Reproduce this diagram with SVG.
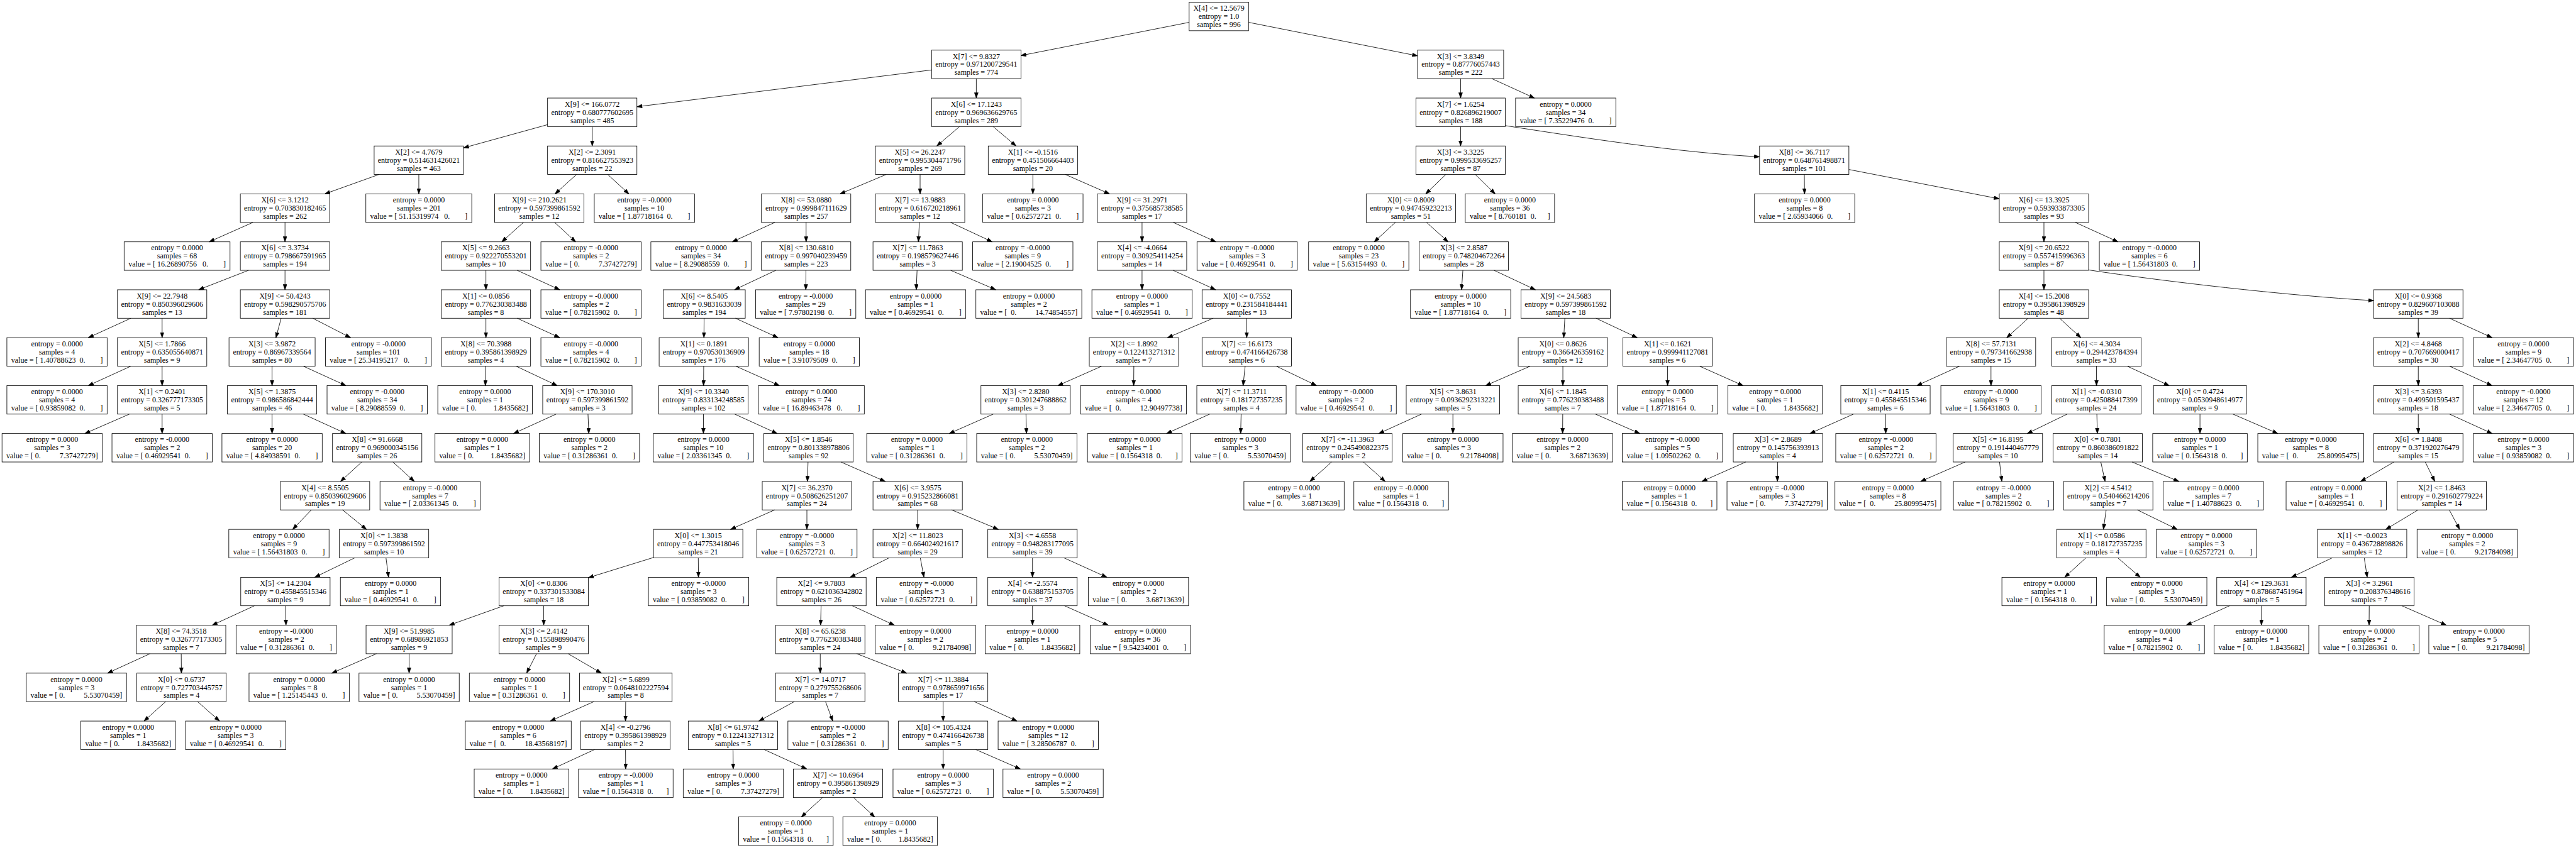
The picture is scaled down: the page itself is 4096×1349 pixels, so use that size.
<svg xmlns="http://www.w3.org/2000/svg" width="4096" height="1349" viewBox="0 0 4096 1349" xml:space="preserve">
<style>
.n rect{fill:#fff;stroke:#000;stroke-width:1.33}
.n text{font-family:"Liberation Serif","Times New Roman",serif;font-size:18.67px;text-anchor:middle;fill:#000;white-space:pre}
#edges line,#edges path{stroke:#000;stroke-width:1.33;fill:none;marker-end:url(#arr)}
</style>
<defs>
<marker id="arr" markerUnits="userSpaceOnUse" viewBox="0 0 14 10" markerWidth="14" markerHeight="10" refX="13.3" refY="5" orient="auto"><path d="M0,0.33 L13.3,5 L0,9.67 z" fill="#000" stroke="#000" stroke-width="1"/></marker>
</defs>
<rect x="0" y="0" width="4096" height="1349" fill="#fff"/>
<g transform="scale(0.6428)">
<g id="nodes">
<g id="n0" class="n" transform="translate(3015,5.5)"><rect x="-73.5" width="147" height="70.5"/><text y="21.4">X[4] &lt;= 12.5679</text><text y="41.5">entropy = 1.0</text><text y="61.6">samples = 996</text></g>
<g id="n1" class="n" transform="translate(2415,124.1)"><rect x="-110.5" width="221" height="70.5"/><text y="21.4">X[7] &lt;= 9.8327</text><text y="41.5">entropy = 0.971200729541</text><text y="61.6">samples = 774</text></g>
<g id="n2" class="n" transform="translate(3613,124.1)"><rect x="-106.5" width="213" height="70.5"/><text y="21.4">X[3] &lt;= 3.8349</text><text y="41.5">entropy = 0.87776057443</text><text y="61.6">samples = 222</text></g>
<g id="n3" class="n" transform="translate(1465,242.7)"><rect x="-110.5" width="221" height="70.5"/><text y="21.4">X[9] &lt;= 166.0772</text><text y="41.5">entropy = 0.680777602695</text><text y="61.6">samples = 485</text></g>
<g id="n4" class="n" transform="translate(2415,242.7)"><rect x="-110.5" width="221" height="70.5"/><text y="21.4">X[6] &lt;= 17.1243</text><text y="41.5">entropy = 0.969636629765</text><text y="61.6">samples = 289</text></g>
<g id="n5" class="n" transform="translate(3613,242.7)"><rect x="-110.5" width="221" height="70.5"/><text y="21.4">X[7] &lt;= 1.6254</text><text y="41.5">entropy = 0.826896219007</text><text y="61.6">samples = 188</text></g>
<g id="n6" class="n" transform="translate(3873,242.7)"><rect x="-124" width="248" height="70.5"/><text y="21.4">entropy = 0.0000</text><text y="41.5">samples = 34</text><text y="61.6">value = [ 7.35229476  0.        ]</text></g>
<g id="n7" class="n" transform="translate(1036,361.3)"><rect x="-110.5" width="221" height="70.5"/><text y="21.4">X[2] &lt;= 4.7679</text><text y="41.5">entropy = 0.514631426021</text><text y="61.6">samples = 463</text></g>
<g id="n8" class="n" transform="translate(1465,361.3)"><rect x="-110.5" width="221" height="70.5"/><text y="21.4">X[2] &lt;= 2.3091</text><text y="41.5">entropy = 0.816627553923</text><text y="61.6">samples = 22</text></g>
<g id="n9" class="n" transform="translate(2276,361.3)"><rect x="-110.5" width="221" height="70.5"/><text y="21.4">X[5] &lt;= 26.2247</text><text y="41.5">entropy = 0.995304471796</text><text y="61.6">samples = 269</text></g>
<g id="n10" class="n" transform="translate(2555,361.3)"><rect x="-110.5" width="221" height="70.5"/><text y="21.4">X[1] &lt;= -0.1516</text><text y="41.5">entropy = 0.451506664403</text><text y="61.6">samples = 20</text></g>
<g id="n11" class="n" transform="translate(3613,361.3)"><rect x="-110.5" width="221" height="70.5"/><text y="21.4">X[3] &lt;= 3.3225</text><text y="41.5">entropy = 0.999533695257</text><text y="61.6">samples = 87</text></g>
<g id="n12" class="n" transform="translate(4463,361.3)"><rect x="-110.5" width="221" height="70.5"/><text y="21.4">X[8] &lt;= 36.7117</text><text y="41.5">entropy = 0.648761498871</text><text y="61.6">samples = 101</text></g>
<g id="n13" class="n" transform="translate(705,479.9)"><rect x="-110.5" width="221" height="70.5"/><text y="21.4">X[6] &lt;= 3.1212</text><text y="41.5">entropy = 0.703830182465</text><text y="61.6">samples = 262</text></g>
<g id="n14" class="n" transform="translate(1036,479.9)"><rect x="-131" width="262" height="70.5"/><text y="21.4">entropy = 0.0000</text><text y="41.5">samples = 201</text><text y="61.6">value = [ 51.15319974   0.        ]</text></g>
<g id="n15" class="n" transform="translate(1334,479.9)"><rect x="-110.5" width="221" height="70.5"/><text y="21.4">X[9] &lt;= 210.2621</text><text y="41.5">entropy = 0.597399861592</text><text y="61.6">samples = 12</text></g>
<g id="n16" class="n" transform="translate(1594,479.9)"><rect x="-124" width="248" height="70.5"/><text y="21.4">entropy = -0.0000</text><text y="41.5">samples = 10</text><text y="61.6">value = [ 1.87718164  0.        ]</text></g>
<g id="n17" class="n" transform="translate(1994,479.9)"><rect x="-110.5" width="221" height="70.5"/><text y="21.4">X[8] &lt;= 53.0880</text><text y="41.5">entropy = 0.999847111629</text><text y="61.6">samples = 257</text></g>
<g id="n18" class="n" transform="translate(2276,479.9)"><rect x="-110.5" width="221" height="70.5"/><text y="21.4">X[7] &lt;= 13.9883</text><text y="41.5">entropy = 0.616720218961</text><text y="61.6">samples = 12</text></g>
<g id="n19" class="n" transform="translate(2555,479.9)"><rect x="-124" width="248" height="70.5"/><text y="21.4">entropy = 0.0000</text><text y="41.5">samples = 3</text><text y="61.6">value = [ 0.62572721  0.        ]</text></g>
<g id="n20" class="n" transform="translate(2825,479.9)"><rect x="-110.5" width="221" height="70.5"/><text y="21.4">X[9] &lt;= 31.2971</text><text y="41.5">entropy = 0.375685738585</text><text y="61.6">samples = 17</text></g>
<g id="n21" class="n" transform="translate(3490,479.9)"><rect x="-110.5" width="221" height="70.5"/><text y="21.4">X[0] &lt;= 0.8009</text><text y="41.5">entropy = 0.947459232213</text><text y="61.6">samples = 51</text></g>
<g id="n22" class="n" transform="translate(3735,479.9)"><rect x="-110.5" width="221" height="70.5"/><text y="21.4">entropy = 0.0000</text><text y="41.5">samples = 36</text><text y="61.6">value = [ 8.760181  0.      ]</text></g>
<g id="n23" class="n" transform="translate(4464,479.9)"><rect x="-124" width="248" height="70.5"/><text y="21.4">entropy = 0.0000</text><text y="41.5">samples = 8</text><text y="61.6">value = [ 2.65934066  0.        ]</text></g>
<g id="n24" class="n" transform="translate(5056,479.9)"><rect x="-110.5" width="221" height="70.5"/><text y="21.4">X[6] &lt;= 13.3925</text><text y="41.5">entropy = 0.593933873305</text><text y="61.6">samples = 93</text></g>
<g id="n25" class="n" transform="translate(438,598.5)"><rect x="-131" width="262" height="70.5"/><text y="21.4">entropy = 0.0000</text><text y="41.5">samples = 68</text><text y="61.6">value = [ 16.26890756   0.        ]</text></g>
<g id="n26" class="n" transform="translate(705,598.5)"><rect x="-110.5" width="221" height="70.5"/><text y="21.4">X[6] &lt;= 3.3734</text><text y="41.5">entropy = 0.798667591965</text><text y="61.6">samples = 194</text></g>
<g id="n27" class="n" transform="translate(1202,598.5)"><rect x="-110.5" width="221" height="70.5"/><text y="21.4">X[5] &lt;= 9.2663</text><text y="41.5">entropy = 0.922270553201</text><text y="61.6">samples = 10</text></g>
<g id="n28" class="n" transform="translate(1462,598.5)"><rect x="-124" width="248" height="70.5"/><text y="21.4">entropy = -0.0000</text><text y="41.5">samples = 2</text><text y="61.6">value = [ 0.          7.37427279]</text></g>
<g id="n29" class="n" transform="translate(1734,598.5)"><rect x="-124" width="248" height="70.5"/><text y="21.4">entropy = 0.0000</text><text y="41.5">samples = 34</text><text y="61.6">value = [ 8.29088559  0.        ]</text></g>
<g id="n30" class="n" transform="translate(1994,598.5)"><rect x="-110.5" width="221" height="70.5"/><text y="21.4">X[8] &lt;= 130.6810</text><text y="41.5">entropy = 0.997040239459</text><text y="61.6">samples = 223</text></g>
<g id="n31" class="n" transform="translate(2270,598.5)"><rect x="-110.5" width="221" height="70.5"/><text y="21.4">X[7] &lt;= 11.7863</text><text y="41.5">entropy = 0.198579627446</text><text y="61.6">samples = 3</text></g>
<g id="n32" class="n" transform="translate(2530,598.5)"><rect x="-124" width="248" height="70.5"/><text y="21.4">entropy = -0.0000</text><text y="41.5">samples = 9</text><text y="61.6">value = [ 2.19004525  0.        ]</text></g>
<g id="n33" class="n" transform="translate(2825,598.5)"><rect x="-110.5" width="221" height="70.5"/><text y="21.4">X[4] &lt;= -4.0664</text><text y="41.5">entropy = 0.309254114254</text><text y="61.6">samples = 14</text></g>
<g id="n34" class="n" transform="translate(3085,598.5)"><rect x="-124" width="248" height="70.5"/><text y="21.4">entropy = -0.0000</text><text y="41.5">samples = 3</text><text y="61.6">value = [ 0.46929541  0.        ]</text></g>
<g id="n35" class="n" transform="translate(3361,598.5)"><rect x="-124" width="248" height="70.5"/><text y="21.4">entropy = 0.0000</text><text y="41.5">samples = 23</text><text y="61.6">value = [ 5.63154493  0.        ]</text></g>
<g id="n36" class="n" transform="translate(3621,598.5)"><rect x="-110.5" width="221" height="70.5"/><text y="21.4">X[3] &lt;= 2.8587</text><text y="41.5">entropy = 0.748204672264</text><text y="61.6">samples = 28</text></g>
<g id="n37" class="n" transform="translate(5056,598.5)"><rect x="-110.5" width="221" height="70.5"/><text y="21.4">X[9] &lt;= 20.6522</text><text y="41.5">entropy = 0.557415996363</text><text y="61.6">samples = 87</text></g>
<g id="n38" class="n" transform="translate(5317,598.5)"><rect x="-124" width="248" height="70.5"/><text y="21.4">entropy = -0.0000</text><text y="41.5">samples = 6</text><text y="61.6">value = [ 1.56431803  0.        ]</text></g>
<g id="n39" class="n" transform="translate(401,717.1)"><rect x="-110.5" width="221" height="70.5"/><text y="21.4">X[9] &lt;= 22.7948</text><text y="41.5">entropy = 0.850396029606</text><text y="61.6">samples = 13</text></g>
<g id="n40" class="n" transform="translate(705,717.1)"><rect x="-110.5" width="221" height="70.5"/><text y="21.4">X[9] &lt;= 50.4243</text><text y="41.5">entropy = 0.598290575706</text><text y="61.6">samples = 181</text></g>
<g id="n41" class="n" transform="translate(1202,717.1)"><rect x="-110.5" width="221" height="70.5"/><text y="21.4">X[1] &lt;= 0.0856</text><text y="41.5">entropy = 0.776230383488</text><text y="61.6">samples = 8</text></g>
<g id="n42" class="n" transform="translate(1462,717.1)"><rect x="-124" width="248" height="70.5"/><text y="21.4">entropy = -0.0000</text><text y="41.5">samples = 2</text><text y="61.6">value = [ 0.78215902  0.        ]</text></g>
<g id="n43" class="n" transform="translate(1742,717.1)"><rect x="-101.5" width="203" height="70.5"/><text y="21.4">X[6] &lt;= 8.5405</text><text y="41.5">entropy = 0.9831633039</text><text y="61.6">samples = 194</text></g>
<g id="n44" class="n" transform="translate(1993,717.1)"><rect x="-124" width="248" height="70.5"/><text y="21.4">entropy = -0.0000</text><text y="41.5">samples = 29</text><text y="61.6">value = [ 7.97802198  0.        ]</text></g>
<g id="n45" class="n" transform="translate(2265,717.1)"><rect x="-124" width="248" height="70.5"/><text y="21.4">entropy = 0.0000</text><text y="41.5">samples = 1</text><text y="61.6">value = [ 0.46929541  0.        ]</text></g>
<g id="n46" class="n" transform="translate(2545,717.1)"><rect x="-131" width="262" height="70.5"/><text y="21.4">entropy = 0.0000</text><text y="41.5">samples = 2</text><text y="61.6">value = [  0.          14.74854557]</text></g>
<g id="n47" class="n" transform="translate(2825,717.1)"><rect x="-124" width="248" height="70.5"/><text y="21.4">entropy = 0.0000</text><text y="41.5">samples = 1</text><text y="61.6">value = [ 0.46929541  0.        ]</text></g>
<g id="n48" class="n" transform="translate(3084,717.1)"><rect x="-110.5" width="221" height="70.5"/><text y="21.4">X[0] &lt;= 0.7552</text><text y="41.5">entropy = 0.231584184441</text><text y="61.6">samples = 13</text></g>
<g id="n49" class="n" transform="translate(3613,717.1)"><rect x="-124" width="248" height="70.5"/><text y="21.4">entropy = 0.0000</text><text y="41.5">samples = 10</text><text y="61.6">value = [ 1.87718164  0.        ]</text></g>
<g id="n50" class="n" transform="translate(3873,717.1)"><rect x="-110.5" width="221" height="70.5"/><text y="21.4">X[9] &lt;= 24.5683</text><text y="41.5">entropy = 0.597399861592</text><text y="61.6">samples = 18</text></g>
<g id="n51" class="n" transform="translate(5056,717.1)"><rect x="-110.5" width="221" height="70.5"/><text y="21.4">X[4] &lt;= 15.2008</text><text y="41.5">entropy = 0.395861398929</text><text y="61.6">samples = 48</text></g>
<g id="n52" class="n" transform="translate(5982,717.1)"><rect x="-110.5" width="221" height="70.5"/><text y="21.4">X[0] &lt;= 0.9368</text><text y="41.5">entropy = 0.829607103088</text><text y="61.6">samples = 39</text></g>
<g id="n53" class="n" transform="translate(141,835.7)"><rect x="-124" width="248" height="70.5"/><text y="21.4">entropy = 0.0000</text><text y="41.5">samples = 4</text><text y="61.6">value = [ 1.40788623  0.        ]</text></g>
<g id="n54" class="n" transform="translate(401,835.7)"><rect x="-110.5" width="221" height="70.5"/><text y="21.4">X[5] &lt;= 1.7866</text><text y="41.5">entropy = 0.635055640871</text><text y="61.6">samples = 9</text></g>
<g id="n55" class="n" transform="translate(673,835.7)"><rect x="-106.5" width="213" height="70.5"/><text y="21.4">X[3] &lt;= 3.9872</text><text y="41.5">entropy = 0.86967339564</text><text y="61.6">samples = 80</text></g>
<g id="n56" class="n" transform="translate(936,835.7)"><rect x="-131" width="262" height="70.5"/><text y="21.4">entropy = -0.0000</text><text y="41.5">samples = 101</text><text y="61.6">value = [ 25.34195217   0.        ]</text></g>
<g id="n57" class="n" transform="translate(1202,835.7)"><rect x="-110.5" width="221" height="70.5"/><text y="21.4">X[8] &lt;= 70.3988</text><text y="41.5">entropy = 0.395861398929</text><text y="61.6">samples = 4</text></g>
<g id="n58" class="n" transform="translate(1462,835.7)"><rect x="-124" width="248" height="70.5"/><text y="21.4">entropy = -0.0000</text><text y="41.5">samples = 4</text><text y="61.6">value = [ 0.78215902  0.        ]</text></g>
<g id="n59" class="n" transform="translate(1741,835.7)"><rect x="-110.5" width="221" height="70.5"/><text y="21.4">X[1] &lt;= 0.1891</text><text y="41.5">entropy = 0.970530136909</text><text y="61.6">samples = 176</text></g>
<g id="n60" class="n" transform="translate(2002,835.7)"><rect x="-124" width="248" height="70.5"/><text y="21.4">entropy = 0.0000</text><text y="41.5">samples = 18</text><text y="61.6">value = [ 3.91079509  0.        ]</text></g>
<g id="n61" class="n" transform="translate(2805,835.7)"><rect x="-110.5" width="221" height="70.5"/><text y="21.4">X[2] &lt;= 1.8992</text><text y="41.5">entropy = 0.122413271312</text><text y="61.6">samples = 7</text></g>
<g id="n62" class="n" transform="translate(3084,835.7)"><rect x="-110.5" width="221" height="70.5"/><text y="21.4">X[7] &lt;= 16.6173</text><text y="41.5">entropy = 0.474166426738</text><text y="61.6">samples = 6</text></g>
<g id="n63" class="n" transform="translate(3866,835.7)"><rect x="-110.5" width="221" height="70.5"/><text y="21.4">X[0] &lt;= 0.8626</text><text y="41.5">entropy = 0.366426359162</text><text y="61.6">samples = 12</text></g>
<g id="n64" class="n" transform="translate(4125,835.7)"><rect x="-110.5" width="221" height="70.5"/><text y="21.4">X[1] &lt;= 0.1621</text><text y="41.5">entropy = 0.999941127081</text><text y="61.6">samples = 6</text></g>
<g id="n65" class="n" transform="translate(4925,835.7)"><rect x="-110.5" width="221" height="70.5"/><text y="21.4">X[8] &lt;= 57.7131</text><text y="41.5">entropy = 0.797341662938</text><text y="61.6">samples = 15</text></g>
<g id="n66" class="n" transform="translate(5186,835.7)"><rect x="-110.5" width="221" height="70.5"/><text y="21.4">X[6] &lt;= 4.3034</text><text y="41.5">entropy = 0.294423784394</text><text y="61.6">samples = 33</text></g>
<g id="n67" class="n" transform="translate(5982,835.7)"><rect x="-110.5" width="221" height="70.5"/><text y="21.4">X[2] &lt;= 4.8468</text><text y="41.5">entropy = 0.707669000417</text><text y="61.6">samples = 30</text></g>
<g id="n68" class="n" transform="translate(6242,835.7)"><rect x="-124" width="248" height="70.5"/><text y="21.4">entropy = 0.0000</text><text y="41.5">samples = 9</text><text y="61.6">value = [ 2.34647705  0.        ]</text></g>
<g id="n69" class="n" transform="translate(141,954.3)"><rect x="-124" width="248" height="70.5"/><text y="21.4">entropy = 0.0000</text><text y="41.5">samples = 4</text><text y="61.6">value = [ 0.93859082  0.        ]</text></g>
<g id="n70" class="n" transform="translate(401,954.3)"><rect x="-110.5" width="221" height="70.5"/><text y="21.4">X[1] &lt;= 0.2401</text><text y="41.5">entropy = 0.326777173305</text><text y="61.6">samples = 5</text></g>
<g id="n71" class="n" transform="translate(673,954.3)"><rect x="-110.5" width="221" height="70.5"/><text y="21.4">X[5] &lt;= 1.3875</text><text y="41.5">entropy = 0.986586842444</text><text y="61.6">samples = 46</text></g>
<g id="n72" class="n" transform="translate(933,954.3)"><rect x="-124" width="248" height="70.5"/><text y="21.4">entropy = -0.0000</text><text y="41.5">samples = 34</text><text y="61.6">value = [ 8.29088559  0.        ]</text></g>
<g id="n73" class="n" transform="translate(1200,954.3)"><rect x="-117" width="234" height="70.5"/><text y="21.4">entropy = 0.0000</text><text y="41.5">samples = 1</text><text y="61.6">value = [ 0.         1.8435682]</text></g>
<g id="n74" class="n" transform="translate(1453,954.3)"><rect x="-110.5" width="221" height="70.5"/><text y="21.4">X[9] &lt;= 170.3010</text><text y="41.5">entropy = 0.597399861592</text><text y="61.6">samples = 3</text></g>
<g id="n75" class="n" transform="translate(1740,954.3)"><rect x="-110.5" width="221" height="70.5"/><text y="21.4">X[9] &lt;= 10.3340</text><text y="41.5">entropy = 0.833134248585</text><text y="61.6">samples = 102</text></g>
<g id="n76" class="n" transform="translate(2007,954.3)"><rect x="-131" width="262" height="70.5"/><text y="21.4">entropy = 0.0000</text><text y="41.5">samples = 74</text><text y="61.6">value = [ 16.89463478   0.        ]</text></g>
<g id="n77" class="n" transform="translate(2537,954.3)"><rect x="-110.5" width="221" height="70.5"/><text y="21.4">X[3] &lt;= 2.8280</text><text y="41.5">entropy = 0.301247688862</text><text y="61.6">samples = 3</text></g>
<g id="n78" class="n" transform="translate(2804,954.3)"><rect x="-131" width="262" height="70.5"/><text y="21.4">entropy = -0.0000</text><text y="41.5">samples = 4</text><text y="61.6">value = [  0.          12.90497738]</text></g>
<g id="n79" class="n" transform="translate(3071,954.3)"><rect x="-110.5" width="221" height="70.5"/><text y="21.4">X[7] &lt;= 11.3711</text><text y="41.5">entropy = 0.181727357235</text><text y="61.6">samples = 4</text></g>
<g id="n80" class="n" transform="translate(3330,954.3)"><rect x="-124" width="248" height="70.5"/><text y="21.4">entropy = -0.0000</text><text y="41.5">samples = 2</text><text y="61.6">value = [ 0.46929541  0.        ]</text></g>
<g id="n81" class="n" transform="translate(3594,954.3)"><rect x="-115.5" width="231" height="70.5"/><text y="21.4">X[5] &lt;= 3.8631</text><text y="41.5">entropy = 0.0936292313221</text><text y="61.6">samples = 5</text></g>
<g id="n82" class="n" transform="translate(3866,954.3)"><rect x="-110.5" width="221" height="70.5"/><text y="21.4">X[6] &lt;= 1.1845</text><text y="41.5">entropy = 0.776230383488</text><text y="61.6">samples = 7</text></g>
<g id="n83" class="n" transform="translate(4125,954.3)"><rect x="-124" width="248" height="70.5"/><text y="21.4">entropy = 0.0000</text><text y="41.5">samples = 5</text><text y="61.6">value = [ 1.87718164  0.        ]</text></g>
<g id="n84" class="n" transform="translate(4391,954.3)"><rect x="-117" width="234" height="70.5"/><text y="21.4">entropy = 0.0000</text><text y="41.5">samples = 1</text><text y="61.6">value = [ 0.         1.8435682]</text></g>
<g id="n85" class="n" transform="translate(4664,954.3)"><rect x="-110.5" width="221" height="70.5"/><text y="21.4">X[1] &lt;= 0.4115</text><text y="41.5">entropy = 0.455845515346</text><text y="61.6">samples = 6</text></g>
<g id="n86" class="n" transform="translate(4925,954.3)"><rect x="-124" width="248" height="70.5"/><text y="21.4">entropy = -0.0000</text><text y="41.5">samples = 9</text><text y="61.6">value = [ 1.56431803  0.        ]</text></g>
<g id="n87" class="n" transform="translate(5186,954.3)"><rect x="-110.5" width="221" height="70.5"/><text y="21.4">X[1] &lt;= -0.0310</text><text y="41.5">entropy = 0.425088417399</text><text y="61.6">samples = 24</text></g>
<g id="n88" class="n" transform="translate(5442,954.3)"><rect x="-115" width="230" height="70.5"/><text y="21.4">X[0] &lt;= 0.4724</text><text y="41.5">entropy = 0.0530948614977</text><text y="61.6">samples = 9</text></g>
<g id="n89" class="n" transform="translate(5982,954.3)"><rect x="-110.5" width="221" height="70.5"/><text y="21.4">X[3] &lt;= 3.6393</text><text y="41.5">entropy = 0.499501595437</text><text y="61.6">samples = 18</text></g>
<g id="n90" class="n" transform="translate(6242,954.3)"><rect x="-124" width="248" height="70.5"/><text y="21.4">entropy = -0.0000</text><text y="41.5">samples = 12</text><text y="61.6">value = [ 2.34647705  0.        ]</text></g>
<g id="n91" class="n" transform="translate(129,1072.9)"><rect x="-124" width="248" height="70.5"/><text y="21.4">entropy = 0.0000</text><text y="41.5">samples = 3</text><text y="61.6">value = [ 0.          7.37427279]</text></g>
<g id="n92" class="n" transform="translate(401,1072.9)"><rect x="-124" width="248" height="70.5"/><text y="21.4">entropy = -0.0000</text><text y="41.5">samples = 2</text><text y="61.6">value = [ 0.46929541  0.        ]</text></g>
<g id="n93" class="n" transform="translate(673,1072.9)"><rect x="-124" width="248" height="70.5"/><text y="21.4">entropy = 0.0000</text><text y="41.5">samples = 20</text><text y="61.6">value = [ 4.84938591  0.        ]</text></g>
<g id="n94" class="n" transform="translate(933,1072.9)"><rect x="-110.5" width="221" height="70.5"/><text y="21.4">X[8] &lt;= 91.6668</text><text y="41.5">entropy = 0.969000345156</text><text y="61.6">samples = 26</text></g>
<g id="n95" class="n" transform="translate(1193,1072.9)"><rect x="-117" width="234" height="70.5"/><text y="21.4">entropy = 0.0000</text><text y="41.5">samples = 1</text><text y="61.6">value = [ 0.         1.8435682]</text></g>
<g id="n96" class="n" transform="translate(1458,1072.9)"><rect x="-124" width="248" height="70.5"/><text y="21.4">entropy = 0.0000</text><text y="41.5">samples = 2</text><text y="61.6">value = [ 0.31286361  0.        ]</text></g>
<g id="n97" class="n" transform="translate(1740,1072.9)"><rect x="-124" width="248" height="70.5"/><text y="21.4">entropy = 0.0000</text><text y="41.5">samples = 10</text><text y="61.6">value = [ 2.03361345  0.        ]</text></g>
<g id="n98" class="n" transform="translate(2000,1072.9)"><rect x="-110.5" width="221" height="70.5"/><text y="21.4">X[5] &lt;= 1.8546</text><text y="41.5">entropy = 0.801338978806</text><text y="61.6">samples = 92</text></g>
<g id="n99" class="n" transform="translate(2268,1072.9)"><rect x="-124" width="248" height="70.5"/><text y="21.4">entropy = 0.0000</text><text y="41.5">samples = 1</text><text y="61.6">value = [ 0.31286361  0.        ]</text></g>
<g id="n100" class="n" transform="translate(2540,1072.9)"><rect x="-124" width="248" height="70.5"/><text y="21.4">entropy = 0.0000</text><text y="41.5">samples = 2</text><text y="61.6">value = [ 0.          5.53070459]</text></g>
<g id="n101" class="n" transform="translate(2807,1072.9)"><rect x="-117" width="234" height="70.5"/><text y="21.4">entropy = 0.0000</text><text y="41.5">samples = 1</text><text y="61.6">value = [ 0.1564318  0.       ]</text></g>
<g id="n102" class="n" transform="translate(3068,1072.9)"><rect x="-124" width="248" height="70.5"/><text y="21.4">entropy = 0.0000</text><text y="41.5">samples = 3</text><text y="61.6">value = [ 0.          5.53070459]</text></g>
<g id="n103" class="n" transform="translate(3333,1072.9)"><rect x="-110.5" width="221" height="70.5"/><text y="21.4">X[7] &lt;= -11.3963</text><text y="41.5">entropy = 0.245490822375</text><text y="61.6">samples = 2</text></g>
<g id="n104" class="n" transform="translate(3594,1072.9)"><rect x="-124" width="248" height="70.5"/><text y="21.4">entropy = 0.0000</text><text y="41.5">samples = 3</text><text y="61.6">value = [ 0.          9.21784098]</text></g>
<g id="n105" class="n" transform="translate(3865,1072.9)"><rect x="-124" width="248" height="70.5"/><text y="21.4">entropy = 0.0000</text><text y="41.5">samples = 2</text><text y="61.6">value = [ 0.          3.68713639]</text></g>
<g id="n106" class="n" transform="translate(4137,1072.9)"><rect x="-124" width="248" height="70.5"/><text y="21.4">entropy = -0.0000</text><text y="41.5">samples = 5</text><text y="61.6">value = [ 1.09502262  0.        ]</text></g>
<g id="n107" class="n" transform="translate(4398,1072.9)"><rect x="-110.5" width="221" height="70.5"/><text y="21.4">X[3] &lt;= 2.8689</text><text y="41.5">entropy = 0.145756393913</text><text y="61.6">samples = 4</text></g>
<g id="n108" class="n" transform="translate(4665,1072.9)"><rect x="-124" width="248" height="70.5"/><text y="21.4">entropy = -0.0000</text><text y="41.5">samples = 2</text><text y="61.6">value = [ 0.62572721  0.        ]</text></g>
<g id="n109" class="n" transform="translate(4942,1072.9)"><rect x="-110.5" width="221" height="70.5"/><text y="21.4">X[5] &lt;= 16.8195</text><text y="41.5">entropy = 0.191440467779</text><text y="61.6">samples = 10</text></g>
<g id="n110" class="n" transform="translate(5189,1072.9)"><rect x="-110.5" width="221" height="70.5"/><text y="21.4">X[0] &lt;= 0.7801</text><text y="41.5">entropy = 0.860386091822</text><text y="61.6">samples = 14</text></g>
<g id="n111" class="n" transform="translate(5442,1072.9)"><rect x="-117" width="234" height="70.5"/><text y="21.4">entropy = 0.0000</text><text y="41.5">samples = 1</text><text y="61.6">value = [ 0.1564318  0.       ]</text></g>
<g id="n112" class="n" transform="translate(5716,1072.9)"><rect x="-131" width="262" height="70.5"/><text y="21.4">entropy = 0.0000</text><text y="41.5">samples = 8</text><text y="61.6">value = [  0.          25.80995475]</text></g>
<g id="n113" class="n" transform="translate(5982,1072.9)"><rect x="-110.5" width="221" height="70.5"/><text y="21.4">X[6] &lt;= 1.8408</text><text y="41.5">entropy = 0.371920276479</text><text y="61.6">samples = 15</text></g>
<g id="n114" class="n" transform="translate(6242,1072.9)"><rect x="-124" width="248" height="70.5"/><text y="21.4">entropy = 0.0000</text><text y="41.5">samples = 3</text><text y="61.6">value = [ 0.93859082  0.        ]</text></g>
<g id="n115" class="n" transform="translate(804,1191.5)"><rect x="-110.5" width="221" height="70.5"/><text y="21.4">X[4] &lt;= 8.5505</text><text y="41.5">entropy = 0.850396029606</text><text y="61.6">samples = 19</text></g>
<g id="n116" class="n" transform="translate(1064,1191.5)"><rect x="-124" width="248" height="70.5"/><text y="21.4">entropy = -0.0000</text><text y="41.5">samples = 7</text><text y="61.6">value = [ 2.03361345  0.        ]</text></g>
<g id="n117" class="n" transform="translate(1996,1191.5)"><rect x="-110.5" width="221" height="70.5"/><text y="21.4">X[7] &lt;= 36.2370</text><text y="41.5">entropy = 0.508626251207</text><text y="61.6">samples = 24</text></g>
<g id="n118" class="n" transform="translate(2270,1191.5)"><rect x="-110.5" width="221" height="70.5"/><text y="21.4">X[6] &lt;= 3.9575</text><text y="41.5">entropy = 0.915232866081</text><text y="61.6">samples = 68</text></g>
<g id="n119" class="n" transform="translate(3201,1191.5)"><rect x="-124" width="248" height="70.5"/><text y="21.4">entropy = 0.0000</text><text y="41.5">samples = 1</text><text y="61.6">value = [ 0.          3.68713639]</text></g>
<g id="n120" class="n" transform="translate(3466,1191.5)"><rect x="-117" width="234" height="70.5"/><text y="21.4">entropy = -0.0000</text><text y="41.5">samples = 1</text><text y="61.6">value = [ 0.1564318  0.       ]</text></g>
<g id="n121" class="n" transform="translate(4130,1191.5)"><rect x="-117" width="234" height="70.5"/><text y="21.4">entropy = 0.0000</text><text y="41.5">samples = 1</text><text y="61.6">value = [ 0.1564318  0.       ]</text></g>
<g id="n122" class="n" transform="translate(4396,1191.5)"><rect x="-124" width="248" height="70.5"/><text y="21.4">entropy = -0.0000</text><text y="41.5">samples = 3</text><text y="61.6">value = [ 0.          7.37427279]</text></g>
<g id="n123" class="n" transform="translate(4670,1191.5)"><rect x="-131" width="262" height="70.5"/><text y="21.4">entropy = 0.0000</text><text y="41.5">samples = 8</text><text y="61.6">value = [  0.          25.80995475]</text></g>
<g id="n124" class="n" transform="translate(4956,1191.5)"><rect x="-124" width="248" height="70.5"/><text y="21.4">entropy = -0.0000</text><text y="41.5">samples = 2</text><text y="61.6">value = [ 0.78215902  0.        ]</text></g>
<g id="n125" class="n" transform="translate(5215,1191.5)"><rect x="-110.5" width="221" height="70.5"/><text y="21.4">X[2] &lt;= 4.5412</text><text y="41.5">entropy = 0.540466214206</text><text y="61.6">samples = 7</text></g>
<g id="n126" class="n" transform="translate(5475,1191.5)"><rect x="-124" width="248" height="70.5"/><text y="21.4">entropy = 0.0000</text><text y="41.5">samples = 7</text><text y="61.6">value = [ 1.40788623  0.        ]</text></g>
<g id="n127" class="n" transform="translate(5779,1191.5)"><rect x="-124" width="248" height="70.5"/><text y="21.4">entropy = 0.0000</text><text y="41.5">samples = 1</text><text y="61.6">value = [ 0.46929541  0.        ]</text></g>
<g id="n128" class="n" transform="translate(6040,1191.5)"><rect x="-110.5" width="221" height="70.5"/><text y="21.4">X[2] &lt;= 1.8463</text><text y="41.5">entropy = 0.291602779224</text><text y="61.6">samples = 14</text></g>
<g id="n129" class="n" transform="translate(690,1310.1)"><rect x="-124" width="248" height="70.5"/><text y="21.4">entropy = 0.0000</text><text y="41.5">samples = 9</text><text y="61.6">value = [ 1.56431803  0.        ]</text></g>
<g id="n130" class="n" transform="translate(950,1310.1)"><rect x="-110.5" width="221" height="70.5"/><text y="21.4">X[0] &lt;= 1.3838</text><text y="41.5">entropy = 0.597399861592</text><text y="61.6">samples = 10</text></g>
<g id="n131" class="n" transform="translate(1727,1310.1)"><rect x="-110.5" width="221" height="70.5"/><text y="21.4">X[0] &lt;= 1.3015</text><text y="41.5">entropy = 0.447753418046</text><text y="61.6">samples = 21</text></g>
<g id="n132" class="n" transform="translate(1996,1310.1)"><rect x="-124" width="248" height="70.5"/><text y="21.4">entropy = -0.0000</text><text y="41.5">samples = 3</text><text y="61.6">value = [ 0.62572721  0.        ]</text></g>
<g id="n133" class="n" transform="translate(2270,1310.1)"><rect x="-110.5" width="221" height="70.5"/><text y="21.4">X[2] &lt;= 11.8023</text><text y="41.5">entropy = 0.664024921617</text><text y="61.6">samples = 29</text></g>
<g id="n134" class="n" transform="translate(2554,1310.1)"><rect x="-110.5" width="221" height="70.5"/><text y="21.4">X[3] &lt;= 4.6558</text><text y="41.5">entropy = 0.948283177095</text><text y="61.6">samples = 39</text></g>
<g id="n135" class="n" transform="translate(5198,1310.1)"><rect x="-110.5" width="221" height="70.5"/><text y="21.4">X[1] &lt;= 0.0586</text><text y="41.5">entropy = 0.181727357235</text><text y="61.6">samples = 4</text></g>
<g id="n136" class="n" transform="translate(5458,1310.1)"><rect x="-124" width="248" height="70.5"/><text y="21.4">entropy = 0.0000</text><text y="41.5">samples = 3</text><text y="61.6">value = [ 0.62572721  0.        ]</text></g>
<g id="n137" class="n" transform="translate(5843,1310.1)"><rect x="-110.5" width="221" height="70.5"/><text y="21.4">X[1] &lt;= -0.0023</text><text y="41.5">entropy = 0.436728898826</text><text y="61.6">samples = 12</text></g>
<g id="n138" class="n" transform="translate(6103,1310.1)"><rect x="-124" width="248" height="70.5"/><text y="21.4">entropy = 0.0000</text><text y="41.5">samples = 2</text><text y="61.6">value = [ 0.          9.21784098]</text></g>
<g id="n139" class="n" transform="translate(706,1428.7)"><rect x="-110.5" width="221" height="70.5"/><text y="21.4">X[5] &lt;= 14.2304</text><text y="41.5">entropy = 0.455845515346</text><text y="61.6">samples = 9</text></g>
<g id="n140" class="n" transform="translate(966,1428.7)"><rect x="-124" width="248" height="70.5"/><text y="21.4">entropy = 0.0000</text><text y="41.5">samples = 1</text><text y="61.6">value = [ 0.46929541  0.        ]</text></g>
<g id="n141" class="n" transform="translate(1345,1428.7)"><rect x="-110.5" width="221" height="70.5"/><text y="21.4">X[0] &lt;= 0.8306</text><text y="41.5">entropy = 0.337301533084</text><text y="61.6">samples = 18</text></g>
<g id="n142" class="n" transform="translate(1728,1428.7)"><rect x="-124" width="248" height="70.5"/><text y="21.4">entropy = -0.0000</text><text y="41.5">samples = 3</text><text y="61.6">value = [ 0.93859082  0.        ]</text></g>
<g id="n143" class="n" transform="translate(2032,1428.7)"><rect x="-110.5" width="221" height="70.5"/><text y="21.4">X[2] &lt;= 9.7803</text><text y="41.5">entropy = 0.621036342802</text><text y="61.6">samples = 26</text></g>
<g id="n144" class="n" transform="translate(2292,1428.7)"><rect x="-124" width="248" height="70.5"/><text y="21.4">entropy = -0.0000</text><text y="41.5">samples = 3</text><text y="61.6">value = [ 0.62572721  0.        ]</text></g>
<g id="n145" class="n" transform="translate(2554,1428.7)"><rect x="-110.5" width="221" height="70.5"/><text y="21.4">X[4] &lt;= -2.5574</text><text y="41.5">entropy = 0.638875153705</text><text y="61.6">samples = 37</text></g>
<g id="n146" class="n" transform="translate(2816,1428.7)"><rect x="-124" width="248" height="70.5"/><text y="21.4">entropy = 0.0000</text><text y="41.5">samples = 2</text><text y="61.6">value = [ 0.          3.68713639]</text></g>
<g id="n147" class="n" transform="translate(5069,1428.7)"><rect x="-117" width="234" height="70.5"/><text y="21.4">entropy = 0.0000</text><text y="41.5">samples = 1</text><text y="61.6">value = [ 0.1564318  0.       ]</text></g>
<g id="n148" class="n" transform="translate(5335,1428.7)"><rect x="-124" width="248" height="70.5"/><text y="21.4">entropy = 0.0000</text><text y="41.5">samples = 3</text><text y="61.6">value = [ 0.          5.53070459]</text></g>
<g id="n149" class="n" transform="translate(5594,1428.7)"><rect x="-110.5" width="221" height="70.5"/><text y="21.4">X[4] &lt;= 129.3631</text><text y="41.5">entropy = 0.878687451964</text><text y="61.6">samples = 5</text></g>
<g id="n150" class="n" transform="translate(5861,1428.7)"><rect x="-110.5" width="221" height="70.5"/><text y="21.4">X[3] &lt;= 3.2961</text><text y="41.5">entropy = 0.208376348616</text><text y="61.6">samples = 7</text></g>
<g id="n151" class="n" transform="translate(448,1547.3)"><rect x="-110.5" width="221" height="70.5"/><text y="21.4">X[8] &lt;= 74.3518</text><text y="41.5">entropy = 0.326777173305</text><text y="61.6">samples = 7</text></g>
<g id="n152" class="n" transform="translate(708,1547.3)"><rect x="-124" width="248" height="70.5"/><text y="21.4">entropy = -0.0000</text><text y="41.5">samples = 2</text><text y="61.6">value = [ 0.31286361  0.        ]</text></g>
<g id="n153" class="n" transform="translate(1012,1547.3)"><rect x="-106.5" width="213" height="70.5"/><text y="21.4">X[9] &lt;= 51.9985</text><text y="41.5">entropy = 0.68986921853</text><text y="61.6">samples = 9</text></g>
<g id="n154" class="n" transform="translate(1345,1547.3)"><rect x="-110.5" width="221" height="70.5"/><text y="21.4">X[3] &lt;= 2.4142</text><text y="41.5">entropy = 0.155898990476</text><text y="61.6">samples = 9</text></g>
<g id="n155" class="n" transform="translate(2029,1547.3)"><rect x="-110.5" width="221" height="70.5"/><text y="21.4">X[8] &lt;= 65.6238</text><text y="41.5">entropy = 0.776230383488</text><text y="61.6">samples = 24</text></g>
<g id="n156" class="n" transform="translate(2289,1547.3)"><rect x="-124" width="248" height="70.5"/><text y="21.4">entropy = 0.0000</text><text y="41.5">samples = 2</text><text y="61.6">value = [ 0.          9.21784098]</text></g>
<g id="n157" class="n" transform="translate(2554,1547.3)"><rect x="-117" width="234" height="70.5"/><text y="21.4">entropy = 0.0000</text><text y="41.5">samples = 1</text><text y="61.6">value = [ 0.         1.8435682]</text></g>
<g id="n158" class="n" transform="translate(2821,1547.3)"><rect x="-124" width="248" height="70.5"/><text y="21.4">entropy = 0.0000</text><text y="41.5">samples = 36</text><text y="61.6">value = [ 9.54234001  0.        ]</text></g>
<g id="n159" class="n" transform="translate(5329,1547.3)"><rect x="-124" width="248" height="70.5"/><text y="21.4">entropy = 0.0000</text><text y="41.5">samples = 4</text><text y="61.6">value = [ 0.78215902  0.        ]</text></g>
<g id="n160" class="n" transform="translate(5594,1547.3)"><rect x="-117" width="234" height="70.5"/><text y="21.4">entropy = 0.0000</text><text y="41.5">samples = 1</text><text y="61.6">value = [ 0.         1.8435682]</text></g>
<g id="n161" class="n" transform="translate(5860,1547.3)"><rect x="-124" width="248" height="70.5"/><text y="21.4">entropy = 0.0000</text><text y="41.5">samples = 2</text><text y="61.6">value = [ 0.31286361  0.        ]</text></g>
<g id="n162" class="n" transform="translate(6132,1547.3)"><rect x="-124" width="248" height="70.5"/><text y="21.4">entropy = 0.0000</text><text y="41.5">samples = 5</text><text y="61.6">value = [ 0.          9.21784098]</text></g>
<g id="n163" class="n" transform="translate(189,1665.9)"><rect x="-124" width="248" height="70.5"/><text y="21.4">entropy = 0.0000</text><text y="41.5">samples = 3</text><text y="61.6">value = [ 0.          5.53070459]</text></g>
<g id="n164" class="n" transform="translate(449,1665.9)"><rect x="-110.5" width="221" height="70.5"/><text y="21.4">X[0] &lt;= 0.6737</text><text y="41.5">entropy = 0.727703445757</text><text y="61.6">samples = 4</text></g>
<g id="n165" class="n" transform="translate(740,1665.9)"><rect x="-124" width="248" height="70.5"/><text y="21.4">entropy = 0.0000</text><text y="41.5">samples = 8</text><text y="61.6">value = [ 1.25145443  0.        ]</text></g>
<g id="n166" class="n" transform="translate(1012,1665.9)"><rect x="-124" width="248" height="70.5"/><text y="21.4">entropy = 0.0000</text><text y="41.5">samples = 1</text><text y="61.6">value = [ 0.          5.53070459]</text></g>
<g id="n167" class="n" transform="translate(1285,1665.9)"><rect x="-124" width="248" height="70.5"/><text y="21.4">entropy = 0.0000</text><text y="41.5">samples = 1</text><text y="61.6">value = [ 0.31286361  0.        ]</text></g>
<g id="n168" class="n" transform="translate(1548,1665.9)"><rect x="-114.5" width="229" height="70.5"/><text y="21.4">X[2] &lt;= 5.6899</text><text y="41.5">entropy = 0.0648102227594</text><text y="61.6">samples = 8</text></g>
<g id="n169" class="n" transform="translate(2029,1665.9)"><rect x="-110.5" width="221" height="70.5"/><text y="21.4">X[7] &lt;= 14.0717</text><text y="41.5">entropy = 0.279755268606</text><text y="61.6">samples = 7</text></g>
<g id="n170" class="n" transform="translate(2333,1665.9)"><rect x="-110.5" width="221" height="70.5"/><text y="21.4">X[7] &lt;= 11.3884</text><text y="41.5">entropy = 0.978659971656</text><text y="61.6">samples = 17</text></g>
<g id="n171" class="n" transform="translate(317,1784.5)"><rect x="-117" width="234" height="70.5"/><text y="21.4">entropy = 0.0000</text><text y="41.5">samples = 1</text><text y="61.6">value = [ 0.         1.8435682]</text></g>
<g id="n172" class="n" transform="translate(583,1784.5)"><rect x="-124" width="248" height="70.5"/><text y="21.4">entropy = 0.0000</text><text y="41.5">samples = 3</text><text y="61.6">value = [ 0.46929541  0.        ]</text></g>
<g id="n173" class="n" transform="translate(1282,1784.5)"><rect x="-131" width="262" height="70.5"/><text y="21.4">entropy = 0.0000</text><text y="41.5">samples = 6</text><text y="61.6">value = [  0.          18.43568197]</text></g>
<g id="n174" class="n" transform="translate(1547,1784.5)"><rect x="-110.5" width="221" height="70.5"/><text y="21.4">X[4] &lt;= -0.2796</text><text y="41.5">entropy = 0.395861398929</text><text y="61.6">samples = 2</text></g>
<g id="n175" class="n" transform="translate(1813,1784.5)"><rect x="-110.5" width="221" height="70.5"/><text y="21.4">X[8] &lt;= 61.9742</text><text y="41.5">entropy = 0.122413271312</text><text y="61.6">samples = 5</text></g>
<g id="n176" class="n" transform="translate(2073,1784.5)"><rect x="-124" width="248" height="70.5"/><text y="21.4">entropy = -0.0000</text><text y="41.5">samples = 2</text><text y="61.6">value = [ 0.31286361  0.        ]</text></g>
<g id="n177" class="n" transform="translate(2333,1784.5)"><rect x="-110.5" width="221" height="70.5"/><text y="21.4">X[8] &lt;= 105.4324</text><text y="41.5">entropy = 0.474166426738</text><text y="61.6">samples = 5</text></g>
<g id="n178" class="n" transform="translate(2593,1784.5)"><rect x="-124" width="248" height="70.5"/><text y="21.4">entropy = 0.0000</text><text y="41.5">samples = 12</text><text y="61.6">value = [ 3.28506787  0.        ]</text></g>
<g id="n179" class="n" transform="translate(1290,1903.1)"><rect x="-117" width="234" height="70.5"/><text y="21.4">entropy = 0.0000</text><text y="41.5">samples = 1</text><text y="61.6">value = [ 0.         1.8435682]</text></g>
<g id="n180" class="n" transform="translate(1548,1903.1)"><rect x="-117" width="234" height="70.5"/><text y="21.4">entropy = -0.0000</text><text y="41.5">samples = 1</text><text y="61.6">value = [ 0.1564318  0.       ]</text></g>
<g id="n181" class="n" transform="translate(1814,1903.1)"><rect x="-124" width="248" height="70.5"/><text y="21.4">entropy = 0.0000</text><text y="41.5">samples = 3</text><text y="61.6">value = [ 0.          7.37427279]</text></g>
<g id="n182" class="n" transform="translate(2073,1903.1)"><rect x="-110.5" width="221" height="70.5"/><text y="21.4">X[7] &lt;= 10.6964</text><text y="41.5">entropy = 0.395861398929</text><text y="61.6">samples = 2</text></g>
<g id="n183" class="n" transform="translate(2333,1903.1)"><rect x="-124" width="248" height="70.5"/><text y="21.4">entropy = 0.0000</text><text y="41.5">samples = 3</text><text y="61.6">value = [ 0.62572721  0.        ]</text></g>
<g id="n184" class="n" transform="translate(2605,1903.1)"><rect x="-124" width="248" height="70.5"/><text y="21.4">entropy = 0.0000</text><text y="41.5">samples = 2</text><text y="61.6">value = [ 0.          5.53070459]</text></g>
<g id="n185" class="n" transform="translate(1944,2021.7)"><rect x="-117" width="234" height="70.5"/><text y="21.4">entropy = 0.0000</text><text y="41.5">samples = 1</text><text y="61.6">value = [ 0.1564318  0.       ]</text></g>
<g id="n186" class="n" transform="translate(2202,2021.7)"><rect x="-117" width="234" height="70.5"/><text y="21.4">entropy = 0.0000</text><text y="41.5">samples = 1</text><text y="61.6">value = [ 0.         1.8435682]</text></g>
</g>
<g id="edges">
<line x1="2941.5" y1="55.3" x2="2525.4" y2="137.5"/>
<line x1="3088.5" y1="55.3" x2="3506.6" y2="138.2"/>
<line x1="2304.5" y1="173.1" x2="1575.5" y2="264.2"/>
<line x1="2415" y1="194.6" x2="2415" y2="242.7"/>
<line x1="3613" y1="194.6" x2="3613" y2="242.7"/>
<line x1="3690.3" y1="194.6" x2="3795.7" y2="242.7"/>
<line x1="1354.5" y1="308.5" x2="1146.5" y2="366"/>
<line x1="1465" y1="313.2" x2="1465" y2="361.3"/>
<line x1="2373.7" y1="313.2" x2="2317.3" y2="361.3"/>
<line x1="2456.6" y1="313.2" x2="2513.4" y2="361.3"/>
<line x1="3613" y1="313.2" x2="3613" y2="361.3"/>
<path d="M3724,311 C3900,338 4150,378 4352.5,388"/>
<line x1="937.6" y1="431.8" x2="803.4" y2="479.9"/>
<line x1="1036" y1="431.8" x2="1036" y2="479.9"/>
<line x1="1426.1" y1="431.8" x2="1372.9" y2="479.9"/>
<line x1="1503.3" y1="431.8" x2="1555.7" y2="479.9"/>
<line x1="2192.2" y1="431.8" x2="2077.8" y2="479.9"/>
<line x1="2276" y1="431.8" x2="2276" y2="479.9"/>
<line x1="2555" y1="431.8" x2="2555" y2="479.9"/>
<line x1="2635.2" y1="431.8" x2="2744.8" y2="479.9"/>
<line x1="3576.4" y1="431.8" x2="3526.6" y2="479.9"/>
<line x1="3649.3" y1="431.8" x2="3698.7" y2="479.9"/>
<line x1="4463.3" y1="431.8" x2="4463.7" y2="479.9"/>
<line x1="4573.5" y1="419.5" x2="4945.5" y2="492"/>
<line x1="625.6" y1="550.4" x2="517.4" y2="598.5"/>
<line x1="705" y1="550.4" x2="705" y2="598.5"/>
<line x1="1294.8" y1="550.4" x2="1241.2" y2="598.5"/>
<line x1="1372" y1="550.4" x2="1424" y2="598.5"/>
<line x1="1916.7" y1="550.4" x2="1811.3" y2="598.5"/>
<line x1="1994" y1="550.4" x2="1994" y2="598.5"/>
<line x1="2274.2" y1="550.4" x2="2271.8" y2="598.5"/>
<line x1="2351.5" y1="550.4" x2="2454.5" y2="598.5"/>
<line x1="2825" y1="550.4" x2="2825" y2="598.5"/>
<line x1="2902.3" y1="550.4" x2="3007.7" y2="598.5"/>
<line x1="3451.7" y1="550.4" x2="3399.3" y2="598.5"/>
<line x1="3528.9" y1="550.4" x2="3582.1" y2="598.5"/>
<line x1="5056" y1="550.4" x2="5056" y2="598.5"/>
<line x1="5133.6" y1="550.4" x2="5239.4" y2="598.5"/>
<line x1="614.7" y1="669" x2="491.3" y2="717.1"/>
<line x1="705" y1="669" x2="705" y2="717.1"/>
<line x1="1202" y1="669" x2="1202" y2="717.1"/>
<line x1="1279.3" y1="669" x2="1384.7" y2="717.1"/>
<line x1="1919.1" y1="669" x2="1816.9" y2="717.1"/>
<line x1="1993.7" y1="669" x2="1993.3" y2="717.1"/>
<line x1="2268.5" y1="669" x2="2266.5" y2="717.1"/>
<line x1="2351.7" y1="669" x2="2463.3" y2="717.1"/>
<line x1="2825" y1="669" x2="2825" y2="717.1"/>
<line x1="2902" y1="669" x2="3007" y2="717.1"/>
<line x1="3618.6" y1="669" x2="3615.4" y2="717.1"/>
<line x1="3695.9" y1="669" x2="3798.1" y2="717.1"/>
<line x1="5056" y1="669" x2="5056" y2="717.1"/>
<path d="M5166,668 C5350,696 5650,731 5871.5,744"/>
<line x1="323.7" y1="787.6" x2="218.3" y2="835.7"/>
<line x1="401" y1="787.6" x2="401" y2="835.7"/>
<line x1="695.5" y1="787.6" x2="682.5" y2="835.7"/>
<line x1="773.7" y1="787.6" x2="867.3" y2="835.7"/>
<line x1="1202" y1="787.6" x2="1202" y2="835.7"/>
<line x1="1279.3" y1="787.6" x2="1384.7" y2="835.7"/>
<line x1="1741.7" y1="787.6" x2="1741.3" y2="835.7"/>
<line x1="1819.3" y1="787.6" x2="1924.7" y2="835.7"/>
<line x1="3001.1" y1="787.6" x2="2887.9" y2="835.7"/>
<line x1="3084" y1="787.6" x2="3084" y2="835.7"/>
<line x1="3870.9" y1="787.6" x2="3868.1" y2="835.7"/>
<line x1="3947.9" y1="787.6" x2="4050.1" y2="835.7"/>
<line x1="5017.1" y1="787.6" x2="4963.9" y2="835.7"/>
<line x1="5094.6" y1="787.6" x2="5147.4" y2="835.7"/>
<line x1="5982" y1="787.6" x2="5982" y2="835.7"/>
<line x1="6059.3" y1="787.6" x2="6164.7" y2="835.7"/>
<line x1="323.7" y1="906.2" x2="218.3" y2="954.3"/>
<line x1="401" y1="906.2" x2="401" y2="954.3"/>
<line x1="673" y1="906.2" x2="673" y2="954.3"/>
<line x1="750.3" y1="906.2" x2="855.7" y2="954.3"/>
<line x1="1201.4" y1="906.2" x2="1200.6" y2="954.3"/>
<line x1="1276.6" y1="906.2" x2="1378.4" y2="954.3"/>
<line x1="1740.7" y1="906.2" x2="1740.3" y2="954.3"/>
<line x1="1820.1" y1="906.2" x2="1928" y2="954.3"/>
<line x1="2725.3" y1="906.2" x2="2616.7" y2="954.3"/>
<line x1="2804.7" y1="906.2" x2="2804.3" y2="954.3"/>
<line x1="3080.1" y1="906.2" x2="3074.9" y2="954.3"/>
<line x1="3157.1" y1="906.2" x2="3256.9" y2="954.3"/>
<line x1="3785.2" y1="906.2" x2="3674.8" y2="954.3"/>
<line x1="3866" y1="906.2" x2="3866" y2="954.3"/>
<line x1="4125" y1="906.2" x2="4125" y2="954.3"/>
<line x1="4204.1" y1="906.2" x2="4312" y2="954.3"/>
<line x1="4847.4" y1="906.2" x2="4741.6" y2="954.3"/>
<line x1="4925" y1="906.2" x2="4925" y2="954.3"/>
<line x1="5186" y1="906.2" x2="5186" y2="954.3"/>
<line x1="5262.1" y1="906.2" x2="5365.9" y2="954.3"/>
<line x1="5982" y1="906.2" x2="5982" y2="954.3"/>
<line x1="6059.3" y1="906.2" x2="6164.7" y2="954.3"/>
<line x1="320.2" y1="1024.8" x2="209.8" y2="1072.9"/>
<line x1="401" y1="1024.8" x2="401" y2="1072.9"/>
<line x1="673" y1="1024.8" x2="673" y2="1072.9"/>
<line x1="750.3" y1="1024.8" x2="855.7" y2="1072.9"/>
<line x1="1375.7" y1="1024.8" x2="1270.3" y2="1072.9"/>
<line x1="1454.5" y1="1024.8" x2="1456.5" y2="1072.9"/>
<line x1="1740" y1="1024.8" x2="1740" y2="1072.9"/>
<line x1="1817.3" y1="1024.8" x2="1922.7" y2="1072.9"/>
<line x1="2457.1" y1="1024.8" x2="2348" y2="1072.9"/>
<line x1="2537.9" y1="1024.8" x2="2539.1" y2="1072.9"/>
<line x1="2992.5" y1="1024.8" x2="2885.5" y2="1072.9"/>
<line x1="3070.1" y1="1024.8" x2="3068.9" y2="1072.9"/>
<line x1="3516.4" y1="1024.8" x2="3410.6" y2="1072.9"/>
<line x1="3594" y1="1024.8" x2="3594" y2="1072.9"/>
<line x1="3865.7" y1="1024.8" x2="3865.3" y2="1072.9"/>
<line x1="3946.5" y1="1024.8" x2="4056.5" y2="1072.9"/>
<line x1="4584.9" y1="1024.8" x2="4477.1" y2="1072.9"/>
<line x1="4664.3" y1="1024.8" x2="4664.7" y2="1072.9"/>
<line x1="5113.5" y1="1024.8" x2="5014.5" y2="1072.9"/>
<line x1="5186.9" y1="1024.8" x2="5188.1" y2="1072.9"/>
<line x1="5442" y1="1024.8" x2="5442" y2="1072.9"/>
<line x1="5523.4" y1="1024.8" x2="5634.6" y2="1072.9"/>
<line x1="5982" y1="1024.8" x2="5982" y2="1072.9"/>
<line x1="6059.3" y1="1024.8" x2="6164.7" y2="1072.9"/>
<line x1="894.7" y1="1143.4" x2="842.3" y2="1191.5"/>
<line x1="971.9" y1="1143.4" x2="1025.1" y2="1191.5"/>
<line x1="1998.8" y1="1143.4" x2="1997.2" y2="1191.5"/>
<line x1="2080.2" y1="1143.4" x2="2189.8" y2="1191.5"/>
<line x1="3293.8" y1="1143.4" x2="3240.2" y2="1191.5"/>
<line x1="3372.5" y1="1143.4" x2="3426.5" y2="1191.5"/>
<line x1="4318.3" y1="1143.4" x2="4209.7" y2="1191.5"/>
<line x1="4397.4" y1="1143.4" x2="4396.6" y2="1191.5"/>
<line x1="4861.2" y1="1143.4" x2="4750.8" y2="1191.5"/>
<line x1="4946.2" y1="1143.4" x2="4951.8" y2="1191.5"/>
<line x1="5196.7" y1="1143.4" x2="5207.3" y2="1191.5"/>
<line x1="5274" y1="1143.4" x2="5390" y2="1191.5"/>
<line x1="5921.7" y1="1143.4" x2="5839.3" y2="1191.5"/>
<line x1="5999.2" y1="1143.4" x2="6022.8" y2="1191.5"/>
<line x1="770.1" y1="1262" x2="723.9" y2="1310.1"/>
<line x1="847.4" y1="1262" x2="906.6" y2="1310.1"/>
<line x1="1916.1" y1="1262" x2="1807" y2="1310.1"/>
<line x1="1996" y1="1262" x2="1996" y2="1310.1"/>
<line x1="2270" y1="1262" x2="2270" y2="1310.1"/>
<line x1="2354.4" y1="1262" x2="2469.6" y2="1310.1"/>
<line x1="5209.9" y1="1262" x2="5203.1" y2="1310.1"/>
<line x1="5287.2" y1="1262" x2="5385.8" y2="1310.1"/>
<line x1="5981.5" y1="1262" x2="5901.5" y2="1310.1"/>
<line x1="6058.7" y1="1262" x2="6084.3" y2="1310.1"/>
<line x1="877.5" y1="1380.6" x2="778.5" y2="1428.7"/>
<line x1="954.8" y1="1380.6" x2="961.2" y2="1428.7"/>
<line x1="1616.5" y1="1379.7" x2="1455.5" y2="1429.6"/>
<line x1="1727.3" y1="1380.6" x2="1727.7" y2="1428.7"/>
<line x1="2199.3" y1="1380.6" x2="2102.7" y2="1428.7"/>
<line x1="2276.5" y1="1380.6" x2="2285.5" y2="1428.7"/>
<line x1="2554" y1="1380.6" x2="2554" y2="1428.7"/>
<line x1="2631.9" y1="1380.6" x2="2738.1" y2="1428.7"/>
<line x1="5159.7" y1="1380.6" x2="5107.3" y2="1428.7"/>
<line x1="5238.7" y1="1380.6" x2="5294.3" y2="1428.7"/>
<line x1="5769" y1="1380.6" x2="5668" y2="1428.7"/>
<line x1="5848.3" y1="1380.6" x2="5855.7" y2="1428.7"/>
<line x1="629.3" y1="1499.2" x2="524.7" y2="1547.3"/>
<line x1="706.6" y1="1499.2" x2="707.4" y2="1547.3"/>
<line x1="1246" y1="1499.2" x2="1111" y2="1547.3"/>
<line x1="1345" y1="1499.2" x2="1345" y2="1547.3"/>
<line x1="2031.1" y1="1499.2" x2="2029.9" y2="1547.3"/>
<line x1="2108.4" y1="1499.2" x2="2212.6" y2="1547.3"/>
<line x1="2554" y1="1499.2" x2="2554" y2="1547.3"/>
<line x1="2633.4" y1="1499.2" x2="2741.6" y2="1547.3"/>
<line x1="5515.2" y1="1499.2" x2="5407.8" y2="1547.3"/>
<line x1="5594" y1="1499.2" x2="5594" y2="1547.3"/>
<line x1="5860.7" y1="1499.2" x2="5860.3" y2="1547.3"/>
<line x1="5941.5" y1="1499.2" x2="6051.5" y2="1547.3"/>
<line x1="371" y1="1617.8" x2="266" y2="1665.9"/>
<line x1="448.3" y1="1617.8" x2="448.7" y2="1665.9"/>
<line x1="931.2" y1="1617.8" x2="820.8" y2="1665.9"/>
<line x1="1012" y1="1617.8" x2="1012" y2="1665.9"/>
<line x1="1327.2" y1="1617.8" x2="1302.8" y2="1665.9"/>
<line x1="1405.3" y1="1617.8" x2="1487.7" y2="1665.9"/>
<line x1="2029" y1="1617.8" x2="2029" y2="1665.9"/>
<line x1="2119.3" y1="1617.8" x2="2242.7" y2="1665.9"/>
<line x1="409.8" y1="1736.4" x2="356.2" y2="1784.5"/>
<line x1="488.8" y1="1736.4" x2="543.2" y2="1784.5"/>
<line x1="1468.9" y1="1736.4" x2="1361.1" y2="1784.5"/>
<line x1="1547.7" y1="1736.4" x2="1547.3" y2="1784.5"/>
<line x1="1964.8" y1="1736.4" x2="1877.2" y2="1784.5"/>
<line x1="2042.1" y1="1736.4" x2="2059.9" y2="1784.5"/>
<line x1="2333" y1="1736.4" x2="2333" y2="1784.5"/>
<line x1="2410.3" y1="1736.4" x2="2515.7" y2="1784.5"/>
<line x1="1470.6" y1="1855" x2="1366.4" y2="1903.1"/>
<line x1="1547.3" y1="1855" x2="1547.7" y2="1903.1"/>
<line x1="1813.3" y1="1855" x2="1813.7" y2="1903.1"/>
<line x1="1890.3" y1="1855" x2="1995.7" y2="1903.1"/>
<line x1="2333" y1="1855" x2="2333" y2="1903.1"/>
<line x1="2413.8" y1="1855" x2="2524.2" y2="1903.1"/>
<line x1="2034.7" y1="1973.6" x2="1982.3" y2="2021.7"/>
<line x1="2111.3" y1="1973.6" x2="2163.7" y2="2021.7"/>
</g>
</g>
</svg>
